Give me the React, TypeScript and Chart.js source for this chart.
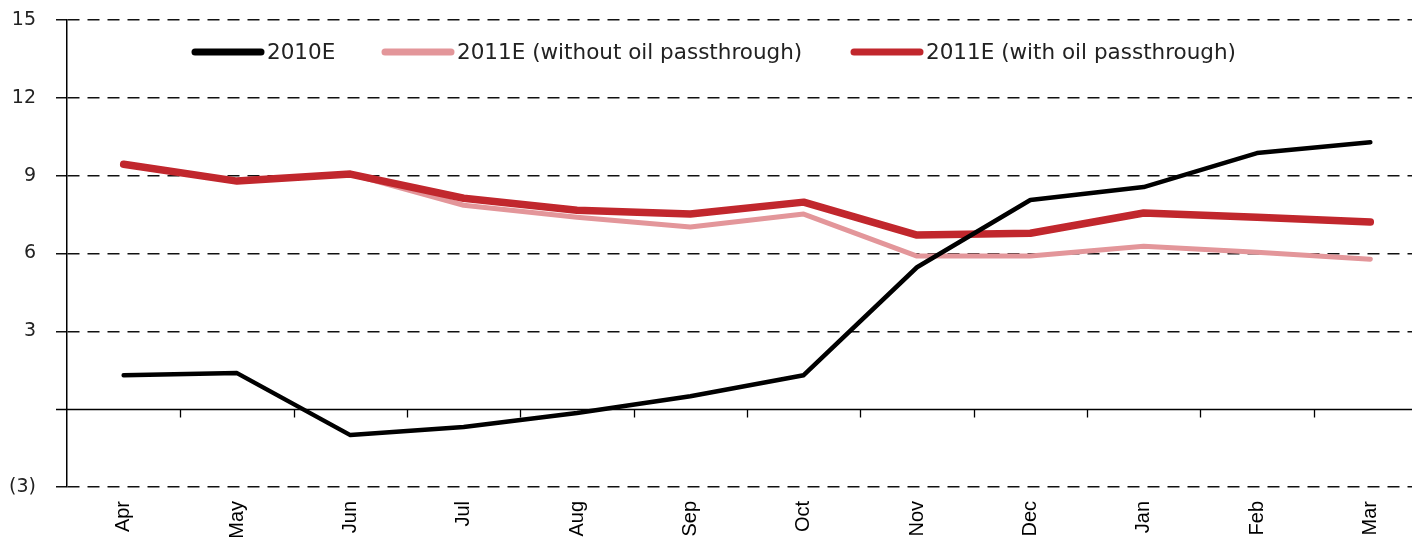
import React, { useEffect, useRef } from "react";
import { Chart, registerables } from "chart.js";

Chart.register(...registerables);

const months = ["Apr", "May", "Jun", "Jul", "Aug", "Sep", "Oct", "Nov", "Dec", "Jan", "Feb", "Mar"];
const series2010E = [1.31, 1.39, -1.0, -0.69, -0.15, 0.5, 1.31, 5.47, 8.06, 8.56, 9.87, 10.29];
const series2011NoOil = [9.44, 8.79, 9.06, 7.86, 7.4, 7.02, 7.52, 5.9, 5.9, 6.28, 6.05, 5.78];
const series2011Oil = [9.44, 8.79, 9.06, 8.13, 7.67, 7.52, 7.98, 6.71, 6.78, 7.56, 7.4, 7.21];
const seriesNames = ["2010E", "2011E (without oil passthrough)", "2011E (with oil passthrough)"];
const yTicks = [-3, 0, 3, 6, 9, 12, 15];

const COLORS = ["#000000", "#e3969a", "#c1272d"];
const WIDTHS = [4.5, 5, 7.5];
const ORDERS = [0, 2, 1];
const DASH = [12, 8];

const zeroLinePlugin = {
  id: "zeroLine",
  beforeDatasetsDraw(chart: any) {
    const { ctx, chartArea, scales } = chart;
    const y0 = Math.round(scales.y.getPixelForValue(0)) + 0.5;
    ctx.save();
    ctx.strokeStyle = "#000";
    ctx.lineWidth = 1.5;
    ctx.setLineDash([]);
    ctx.beginPath();
    ctx.moveTo(chartArea.left - 11, y0);
    ctx.lineTo(chartArea.right, y0);
    ctx.stroke();
    ctx.lineWidth = 1.3;
    for (let i = 0; i < months.length - 1; i++) {
      const x = Math.round(scales.x.getPixelForValue(i + 0.5)) + 0.5;
      ctx.beginPath();
      ctx.moveTo(x, y0);
      ctx.lineTo(x, y0 + 8);
      ctx.stroke();
    }
    ctx.restore();
  },
};

const legendPlugin = {
  id: "customLegend",
  afterDatasetsDraw(chart: any) {
    const { ctx } = chart;
    const starts = [192, 382, 851];
    const y = 52;
    ctx.save();
    ctx.font = "21.5px 'DejaVu Sans'";
    ctx.textBaseline = "middle";
    ctx.textAlign = "left";
    seriesNames.forEach((name, i) => {
      const x0 = starts[i];
      ctx.strokeStyle = COLORS[i];
      ctx.lineWidth = 7;
      ctx.lineCap = "round";
      ctx.beginPath();
      ctx.moveTo(x0 + 3, y);
      ctx.lineTo(x0 + 69, y);
      ctx.stroke();
      ctx.fillStyle = "#222";
      ctx.fillText(name, x0 + 75, y + 1);
    });
    ctx.restore();
  },
};

export default function App() {
  const ref = useRef<HTMLCanvasElement>(null);
  useEffect(() => {
    if (!ref.current) return;
    const datasets = [series2010E, series2011NoOil, series2011Oil].map((d, i) => ({
      label: seriesNames[i],
      data: d,
      order: ORDERS[i],
      borderColor: COLORS[i],
      backgroundColor: COLORS[i],
      borderWidth: WIDTHS[i],
      pointRadius: 0,
      tension: 0,
      borderCapStyle: "round" as const,
      borderJoinStyle: "round" as const,
      fill: false,
    }));
    const chart = new Chart(ref.current, {
      type: "line",
      data: { labels: months, datasets },
      options: {
        animation: false,
        responsive: false,
        layout: { padding: { left: 0, right: 3, top: 20, bottom: 0 } },
        plugins: { legend: { display: false }, tooltip: { enabled: false } },
        scales: {
          x: {
            type: "category",
            offset: true,
            grid: { display: false, drawTicks: false },
            border: { display: false },
            ticks: {
              minRotation: 90,
              maxRotation: 90,
              padding: 14,
              color: "#000",
              font: { family: "'Liberation Sans', Arial", size: 20 },
            },
            afterFit: (s: any) => {
              s.height = 54;
            },
          },
          y: {
            min: -3,
            max: 15,
            afterBuildTicks: (s: any) => {
              s.ticks = yTicks.map((v) => ({ value: v }));
            },
            ticks: {
              padding: 20,
              color: "#222",
              font: { family: "'DejaVu Sans'", size: 19 },
              callback: (v: any) => (v < 0 ? `(${Math.abs(v)})` : v === 0 ? "" : String(v)),
            },
            grid: {
              color: (c: any) => (c.tick && c.tick.value === 0 ? "rgba(0,0,0,0)" : "#111"),
              lineWidth: 1.5,
              tickLength: 11,
              tickColor: (c: any) => (c.tick && c.tick.value === 0 ? "rgba(0,0,0,0)" : "#111"),
              tickBorderDash: DASH,
            },
            border: { display: true, color: "#000", width: 1.5, dash: DASH },
            afterFit: (s: any) => {
              s.width = 67;
              s.paddingTop = 10;
              s.paddingBottom = 10;
            },
          },
        },
      },
      plugins: [zeroLinePlugin, legendPlugin],
    });
    return () => chart.destroy();
  }, []);

  return (
    <div
      style={{
        position: "fixed",
        left: 0,
        top: 0,
        width: 1412,
        height: 541,
        overflow: "hidden",
        background: "#fff",
      }}
    >
      <canvas ref={ref} width={1430} height={541} style={{ display: "block" }} />
    </div>
  );
}
